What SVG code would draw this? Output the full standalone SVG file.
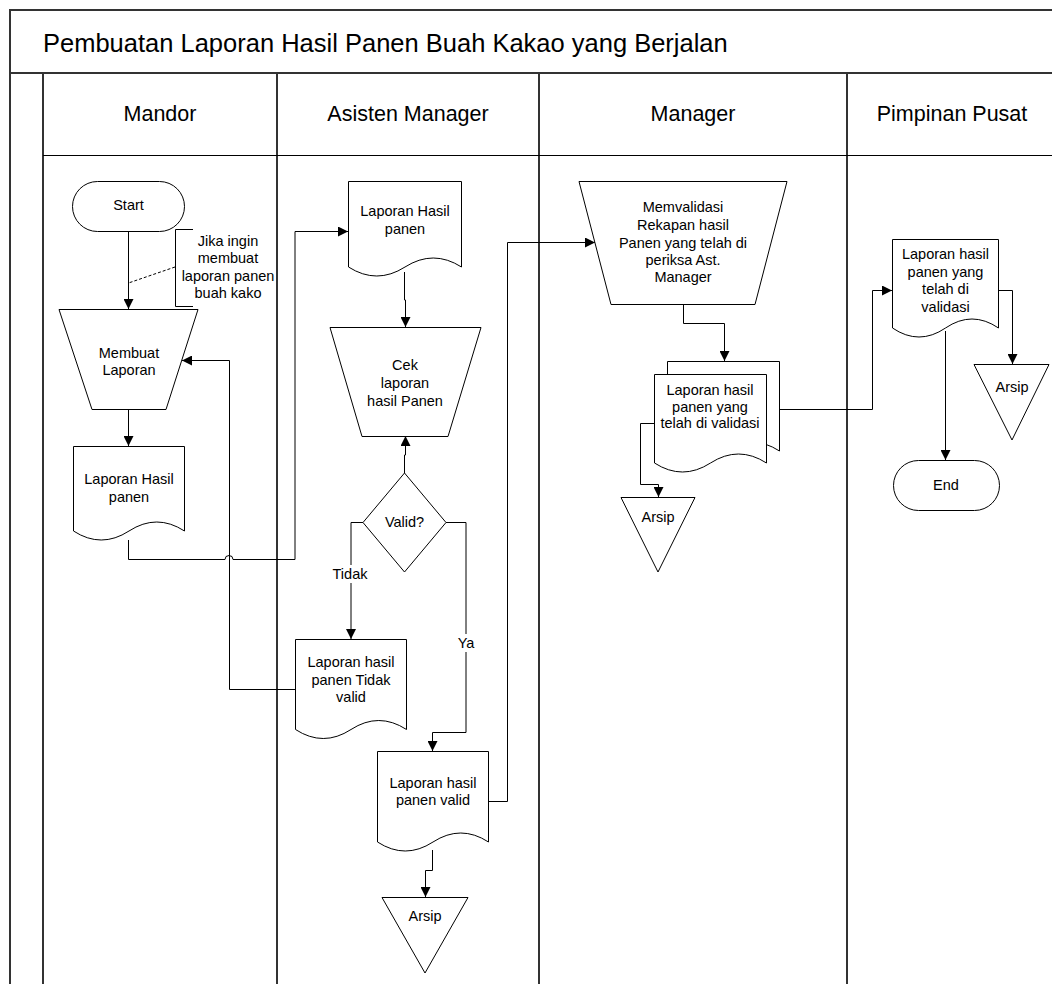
<svg xmlns="http://www.w3.org/2000/svg" width="1052" height="984" viewBox="0 0 1052 984">
<style>
  text { font-family: "Liberation Sans", Arial, sans-serif; fill: #000; }
  .t { font-size: 14.5px; text-anchor: middle; }
  .lane { font-size: 21.5px; text-anchor: middle; }
  .title { font-size: 25.5px; }
  .shape { fill: #fff; stroke: #000; stroke-width: 1; }
  .frame { fill: none; stroke: #333; stroke-width: 2; }
  .conn { fill: none; stroke: #000; stroke-width: 1; }
  .arr { marker-end: url(#ah); }
</style>
<defs>
  <marker id="ah" markerUnits="userSpaceOnUse" markerWidth="10" markerHeight="10" refX="10" refY="5" orient="auto">
    <path d="M0,0 L10,5 L0,10 z" fill="#000"/>
  </marker>
</defs>
<rect x="0" y="0" width="1052" height="984" fill="#fff"/>

<g id="pool">
  <line class="frame" x1="10" y1="10" x2="1052" y2="10"/>
  <line class="frame" x1="10" y1="73" x2="1052" y2="73"/>
  <line class="frame" x1="10" y1="9" x2="10" y2="984"/>
  <line class="frame" x1="43" y1="73" x2="43" y2="984"/>
  <line class="frame" x1="277" y1="73" x2="277" y2="984"/>
  <line class="frame" x1="539" y1="73" x2="539" y2="984"/>
  <line class="frame" x1="847" y1="73" x2="847" y2="984"/>
  <line x1="43" y1="155.5" x2="1052" y2="155.5" stroke="#000" stroke-width="1"/>
  <text class="title" x="43" y="52">Pembuatan Laporan Hasil Panen Buah Kakao yang Berjalan</text>
  <text class="lane" x="160" y="121">Mandor</text>
  <text class="lane" x="408" y="121">Asisten Manager</text>
  <text class="lane" x="693" y="121">Manager</text>
  <text class="lane" x="952" y="121">Pimpinan Pusat</text>
</g>

<g id="connectors">
  <path class="conn arr" d="M128.5,231 V309"/>
  <path class="conn arr" d="M128.5,409 V446"/>
  <path class="conn arr" d="M128.5,540 V559.5 H225 A4,4 0 0 1 233,559.5 H295 V231.5 H348"/>
  <path class="conn arr" d="M404.5,272 V300 H405.5 V327"/>
  <path class="conn arr" d="M404.5,473 V455 H405.5 V436"/>
  <path class="conn arr" d="M363,522.5 H351 V639"/>
  <path class="conn arr" d="M446,522.5 H466 V732.5 H432.5 V751"/>
  <path class="conn arr" d="M295,689.5 H229.5 V360.5 H182"/>
  <path class="conn arr" d="M488,801.5 H507.5 V242.5 H595"/>
  <path class="conn arr" d="M432.5,850 V870.5 H425.5 V897"/>
  <path class="conn arr" d="M683.5,304 V323.5 H724.5 V361"/>
  <path class="conn arr" d="M779,409.5 H872.5 V290.5 H892"/>
  <path class="conn arr" d="M654,423.5 H640.5 V484.5 H658.5 V497"/>
  <path class="conn arr" d="M998,290.5 H1012.5 V364"/>
  <path class="conn arr" d="M945.5,331 V460"/>
  <rect x="334" y="565" width="33" height="18" fill="#fff"/>
  <text class="t" x="350" y="579">Tidak</text>
  <rect x="456" y="634" width="20" height="18" fill="#fff"/>
  <text class="t" x="466" y="648">Ya</text>
</g>

<g id="start">
  <rect class="shape" x="72.5" y="181.5" width="112" height="50" rx="25" ry="25"/>
  <text class="t" x="128.5" y="210">Start</text>
</g>

<g id="annotation">
  <path class="conn" d="M193,229.5 H175.5 V306.5 H193"/>
  <line x1="175" y1="267" x2="128.5" y2="283" stroke="#000" stroke-width="1" stroke-dasharray="3,2"/>
  <text class="t" x="228" y="246">Jika ingin</text>
  <text class="t" x="228" y="263">membuat</text>
  <text class="t" x="228" y="281">laporan panen</text>
  <text class="t" x="228" y="298">buah kako</text>
</g>

<g id="membuat-laporan">
  <path class="shape" d="M59,309.5 H198 L166,409.5 H92 Z"/>
  <text class="t" x="129" y="358">Membuat</text>
  <text class="t" x="129" y="375">Laporan</text>
</g>

<g id="doc-mandor">
  <path class="shape" d="M73.5,446.5 H184.5 V531 Q156.75,513 129,531 T73.5,531 Z"/>
  <text class="t" x="129" y="484">Laporan Hasil</text>
  <text class="t" x="129" y="502">panen</text>
</g>

<g id="doc-asisten">
  <path class="shape" d="M348.5,181.5 H461.5 V267 Q433.25,249 405,267 T348.5,267 Z"/>
  <text class="t" x="405" y="216">Laporan Hasil</text>
  <text class="t" x="405" y="234">panen</text>
</g>

<g id="cek-laporan">
  <path class="shape" d="M330,327.5 H481 L448,436.5 H362 Z"/>
  <text class="t" x="405" y="370">Cek</text>
  <text class="t" x="405" y="388">laporan</text>
  <text class="t" x="405" y="406">hasil Panen</text>
</g>

<g id="valid-decision">
  <path class="shape" d="M404.5,473 L446,522.5 L404.5,572 L363,522.5 Z"/>
  <text class="t" x="404.5" y="527">Valid?</text>
</g>

<g id="doc-tidak-valid">
  <path class="shape" d="M295.5,639.5 H406.5 V729.5 Q378.75,711.5 351,729.5 T295.5,729.5 Z"/>
  <text class="t" x="351" y="667">Laporan hasil</text>
  <text class="t" x="351" y="685">panen Tidak</text>
  <text class="t" x="351" y="702">valid</text>
</g>

<g id="doc-valid">
  <path class="shape" d="M377.5,751.5 H488.5 V842 Q460.75,824 433,842 T377.5,842 Z"/>
  <text class="t" x="433" y="788">Laporan hasil</text>
  <text class="t" x="433" y="805">panen valid</text>
</g>

<g id="arsip-asisten">
  <path class="shape" d="M382,897.5 H468 L425,973 Z"/>
  <text class="t" x="425" y="921">Arsip</text>
</g>

<g id="memvalidasi">
  <path class="shape" d="M579,181.5 H787 L755,304.5 H611 Z"/>
  <text class="t" x="683" y="212">Memvalidasi</text>
  <text class="t" x="683" y="230">Rekapan hasil</text>
  <text class="t" x="683" y="247.5">Panen yang telah di</text>
  <text class="t" x="683" y="265">periksa Ast.</text>
  <text class="t" x="683" y="282">Manager</text>
</g>

<g id="doc-manager">
  <path class="shape" d="M667.5,361.5 H779.5 V451 Q751.5,433 723.5,451 T667.5,451 Z"/>
  <path class="shape" d="M654.5,374.5 H766.5 V463 Q738.5,445 710.5,463 T654.5,463 Z"/>
  <text class="t" x="710" y="395">Laporan hasil</text>
  <text class="t" x="710" y="412">panen yang</text>
  <text class="t" x="710" y="428">telah di validasi</text>
</g>

<g id="arsip-manager">
  <path class="shape" d="M621,497.5 H695 L658,572 Z"/>
  <text class="t" x="658" y="522">Arsip</text>
</g>

<g id="doc-pimpinan">
  <path class="shape" d="M892.5,239.5 H998.5 V328 Q972,310 945.5,328 T892.5,328 Z"/>
  <text class="t" x="945.5" y="259">Laporan hasil</text>
  <text class="t" x="945.5" y="276.5">panen yang</text>
  <text class="t" x="945.5" y="294">telah di</text>
  <text class="t" x="945.5" y="311.5">validasi</text>
</g>

<g id="arsip-pimpinan">
  <path class="shape" d="M974,364.5 H1049 L1012,440 Z"/>
  <text class="t" x="1012" y="392">Arsip</text>
</g>

<g id="end">
  <rect class="shape" x="893.5" y="460.5" width="106" height="50" rx="25" ry="25"/>
  <text class="t" x="946" y="490">End</text>
</g>
</svg>
